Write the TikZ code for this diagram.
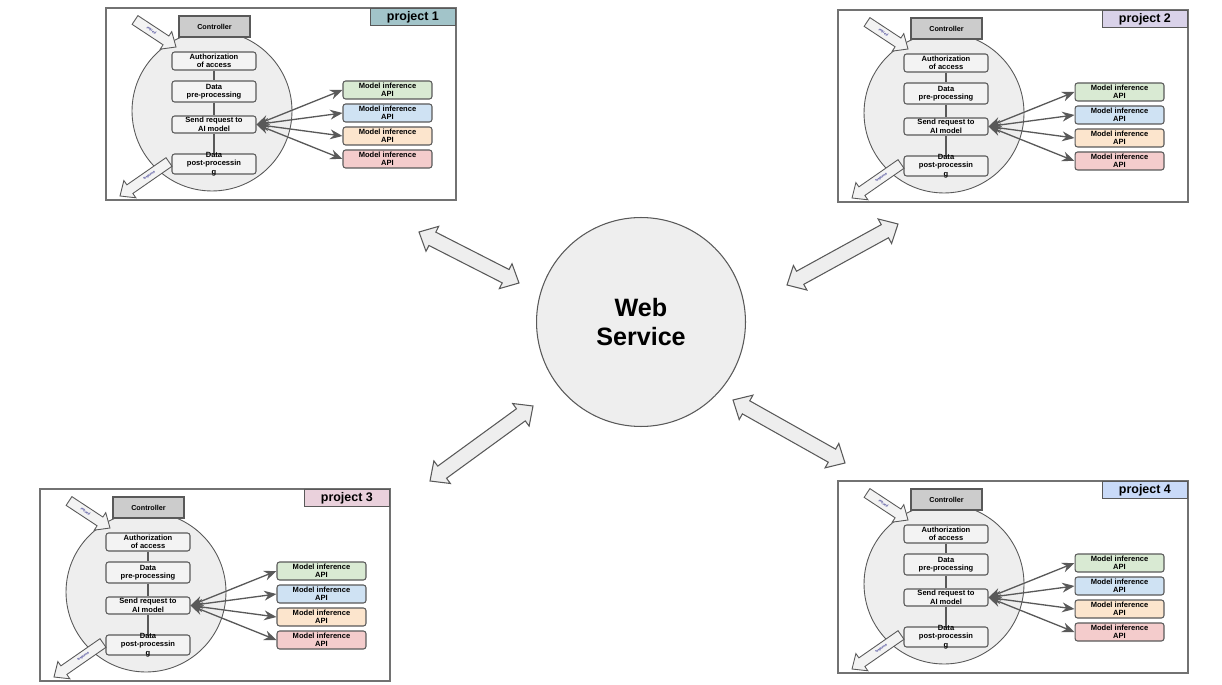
\documentclass[tikz,border=0pt]{standalone}
\usepackage{fontspec}
\setmainfont{Liberation Sans}
\usetikzlibrary{arrows.meta,calc}
\definecolor{edgegray}{HTML}{595959}
\definecolor{lightfill}{HTML}{EEEEEE}
\definecolor{boxfill}{HTML}{F3F3F3}
\definecolor{ctrlgray}{HTML}{CCCCCC}
\definecolor{apigreen}{HTML}{D9EAD3}
\definecolor{apiblue}{HTML}{CFE2F3}
\definecolor{apiorange}{HTML}{FCE5CD}
\definecolor{apired}{HTML}{F4CCCC}
\definecolor{projteal}{HTML}{A2C4C9}
\definecolor{projpurple}{HTML}{D9D2E9}
\definecolor{projpink}{HTML}{EAD1DC}
\definecolor{projblue}{HTML}{C9DAF8}
\newcommand{\tinytext}{\fontsize{4.3}{4.8}\selectfont\bfseries}

% single block arrow: tail, tip, name, label
\newcommand{\singlearrow}[4]{%
  \coordinate (#3q) at ($(#2)!0.24cm!(#1)$);
  \draw[blockarrow] ($(#1)!0.105cm!90:(#2)$) -- ($(#3q)!0.105cm!-90:(#1)$) -- ($(#3q)!0.21cm!-90:(#1)$)
    -- (#2) -- ($(#3q)!0.21cm!90:(#1)$) -- ($(#3q)!0.105cm!90:(#1)$) -- ($(#1)!0.105cm!-90:(#2)$) -- cycle;
  \path (#1) -- (#2) node[reqlabel, pos=0.4, sloped] (#3) {#4};}

% double block arrow between two named points
\newcommand{\linkarrow}[3]{%
  \coordinate (#3p) at ($(#1)!0.3cm!(#2)$);
  \coordinate (#3q) at ($(#2)!0.3cm!(#1)$);
  \draw[link] (#1) -- ($(#3p)!0.28cm!90:(#2)$) -- ($(#3p)!0.15cm!90:(#2)$)
    -- ($(#3q)!0.15cm!-90:(#1)$) -- ($(#3q)!0.28cm!-90:(#1)$) -- (#2)
    -- ($(#3q)!0.28cm!90:(#1)$) -- ($(#3q)!0.15cm!90:(#1)$)
    -- ($(#3p)!0.15cm!-90:(#2)$) -- ($(#3p)!0.28cm!-90:(#2)$) -- cycle;}

% one project panel: prefix, shift, number, title colour
\newcommand{\project}[4]{%
  \begin{scope}[shift={(#2)}]
    % Frame and title
    \draw[panel] (106,8) rectangle (456,200);
    \node[title, fill=#4, anchor=north east] (#1title) at (456,8) {project #3};
    % Pipeline
    \node[flow] (#1flow) at (212,111) {};
    \node[ctrl] (#1ctrl) at (214.5,26.5) {Controller};
    \node[stepbox, minimum height=0.36cm] (#1auth) at (214,61) {Authorization\\of access};
    \node[stepbox, minimum height=0.42cm] (#1pre) at (214,91.5) {Data\\pre-processing};
    \node[stepbox, minimum height=0.34cm] (#1send) at (214,124.5) {Send request to\\AI model};
    \node[stepbox, minimum height=0.40cm] (#1post) at (214,164) {};
    \node[steptext] (#1posttxt) at (#1post) {Data\\post-processin\\g};
    \draw[wire] (#1auth) -- (#1pre);
    \draw[wire] (#1pre) -- (#1send);
    \draw[wire] (#1send) -- (#1post);
    % Model APIs
    \foreach \c [count=\i] in {apigreen,apiblue,apiorange,apired}
      \node[apibox, fill=\c] (#1api\i) at (387.5,{67+23*\i}) {Model inference\\API};
    \foreach \i in {1,...,4}
      \draw[api] (#1send.east) -- (#1api\i.west);
    % Request and response
    \coordinate (#1reqtail) at (135,20);  \coordinate (#1reqtip) at (176,47);
    \coordinate (#1resptail) at (169,162);  \coordinate (#1resptip) at (120,196);
    \singlearrow{#1reqtail}{#1reqtip}{#1req}{request}
    \singlearrow{#1resptail}{#1resptip}{#1resp}{response}
  \end{scope}}

\begin{document}
\begin{tikzpicture}[x=0.02cm,y=-0.02cm,
    panel/.style={draw=edgegray!85, line width=0.8pt},
    title/.style={draw=edgegray, line width=0.7pt, minimum width=1.7cm, minimum height=0.34cm,
      inner sep=0pt, font=\fontsize{7.1}{8}\selectfont\bfseries},
    flow/.style={circle, draw=edgegray, fill=lightfill, line width=0.5pt, minimum size=3.2cm, inner sep=0pt},
    ctrl/.style={draw=edgegray, fill=ctrlgray, line width=0.7pt, minimum width=1.42cm, minimum height=0.42cm,
      inner sep=0pt, font=\fontsize{4.1}{4.8}\selectfont\bfseries},
    stepbox/.style={draw=edgegray, fill=boxfill, rounded corners=1.5pt, line width=0.6pt,
      minimum width=1.68cm, inner sep=0pt, align=center, font=\tinytext},
    steptext/.style={inner sep=0pt, align=center, font=\tinytext},
    apibox/.style={draw=edgegray, rounded corners=1.5pt, line width=0.6pt, minimum width=1.78cm,
      minimum height=0.36cm, inner sep=0pt, align=center, font=\tinytext},
    wire/.style={draw=edgegray, line width=0.6pt},
    api/.style={draw=edgegray, line width=0.75pt,
      {Stealth[length=7pt,width=5.6pt]}-{Stealth[length=7pt,width=5.6pt]}},
    blockarrow/.style={draw=edgegray, fill=boxfill, line width=0.5pt, line join=miter},
    reqlabel/.style={inner sep=0pt, text=blue!45!black, font=\fontsize{1.9}{2}\selectfont},
    link/.style={draw=edgegray, fill=lightfill, line width=0.6pt, line join=miter}]
  \useasboundingbox (0,0) rectangle (1222,685);

  % Projects
  \project{pa}{0,0}{1}{projteal}
  \project{pb}{732,2}{2}{projpurple}
  \project{pc}{-66,481}{3}{projpink}
  \project{pd}{732,473}{4}{projblue}

  % Web service
  \node[circle, draw=edgegray, fill=lightfill, line width=0.6pt, minimum size=4.18cm, align=center,
    font=\fontsize{14.3}{16}\selectfont\bfseries] (web) at (641,322) {Web\\Service};

  % Links to the projects
  \coordinate (pa end) at (419,232);  \coordinate (web a) at (519,283);
  \coordinate (pb end) at (898,224);  \coordinate (web b) at (787,285);
  \coordinate (pc end) at (430,481);  \coordinate (web c) at (533,406);
  \coordinate (pd end) at (845,463);  \coordinate (web d) at (733,400);
  \linkarrow{pa end}{web a}{link a}
  \linkarrow{web b}{pb end}{link b}
  \linkarrow{pc end}{web c}{link c}
  \linkarrow{web d}{pd end}{link d}
\end{tikzpicture}
\end{document}
